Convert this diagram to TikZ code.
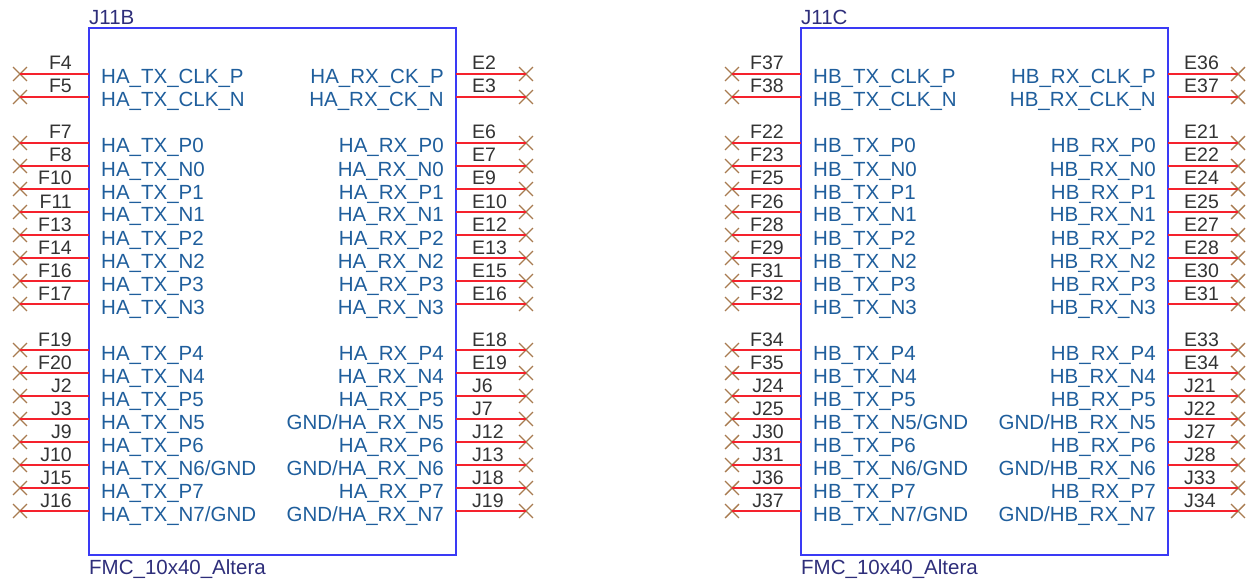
\documentclass[tikz,border=0pt]{standalone}
\usepackage{fontspec}
\setmainfont{Liberation Sans}
\usetikzlibrary{shapes.misc}

\definecolor{partblue}{HTML}{3A3AF5}
\definecolor{pinred}{HTML}{F5222D}
\definecolor{nocross}{HTML}{A87B50}
\definecolor{netblue}{HTML}{1F5E9C}
\definecolor{pintext}{HTML}{333333}
\definecolor{reftext}{HTML}{2E2E7A}

\tikzset{
	part/.style={draw=partblue, line width=2pt},
	pin/.style={draw=pinred, line width=2pt},
	nocon/.style={cross out, draw=nocross, line width=1.4pt, minimum size=12.5pt, inner sep=0pt},
	pinnum/.style={text=pintext, inner sep=0pt, font=\fontsize{19.5}{20}\selectfont},
	netname/.style={text=netblue, inner sep=0pt, font=\fontsize{20.5}{20}\selectfont},
	refname/.style={text=reftext, inner sep=0pt, font=\fontsize{20.5}{20}\selectfont}
}

% #1 suffix, #2 x offset, #3 designator, #4 left pins, #5 right pins
\newcommand{\fmcpart}[5]{
	\begin{scope}[xshift=#2pt]
		\draw[part] (89,28) rectangle (456,555);
		\node[refname, anchor=base west] (ref#1) at (89,25) {#3};
		\node[refname, anchor=base west] (val#1) at (89,574.5) {FMC\_10x40\_Altera};

		\foreach \y/\pinno/\net in {#4}{
			\coordinate (lend#1\y) at (89,\y);
			\node[nocon] (lx#1\y) at (20,\y) {};
			\draw[pin] (lend#1\y) -- (lx#1\y.center);
			\node[pinnum, anchor=base east] (lnum#1\y) at (72,\y-4) {\pinno};
			\node[netname, anchor=base west] (lnet#1\y) at (101,\y+10) {\net};
		}
		\foreach \y/\pinno/\net in {#5}{
			\coordinate (rend#1\y) at (456,\y);
			\node[nocon] (rx#1\y) at (526,\y) {};
			\draw[pin] (rend#1\y) -- (rx#1\y.center);
			\node[pinnum, anchor=base west] (rnum#1\y) at (472,\y-4) {\pinno};
			\node[netname, anchor=base east] (rnet#1\y) at (444,\y+10) {\net};
		}
	\end{scope}
}

\begin{document}
\begin{tikzpicture}[x=1pt,y=-1pt]

	\useasboundingbox (0,0) rectangle (1256,583);

	\fmcpart{B}{0}{J11B}{
		74/F4/HA\_TX\_CLK\_P, 97/F5/HA\_TX\_CLK\_N,
		143/F7/HA\_TX\_P0, 166/F8/HA\_TX\_N0, 189/F10/HA\_TX\_P1, 212/F11/HA\_TX\_N1,
		235/F13/HA\_TX\_P2, 258/F14/HA\_TX\_N2, 281/F16/HA\_TX\_P3, 304/F17/HA\_TX\_N3,
		350/F19/HA\_TX\_P4, 373/F20/HA\_TX\_N4, 396/J2/HA\_TX\_P5, 419/J3/HA\_TX\_N5,
		442/J9/HA\_TX\_P6, 465/J10/{HA\_TX\_N6/GND}, 488/J15/HA\_TX\_P7, 511/J16/{HA\_TX\_N7/GND}
	}{
		74/E2/HA\_RX\_CK\_P, 97/E3/HA\_RX\_CK\_N,
		143/E6/HA\_RX\_P0, 166/E7/HA\_RX\_N0, 189/E9/HA\_RX\_P1, 212/E10/HA\_RX\_N1,
		235/E12/HA\_RX\_P2, 258/E13/HA\_RX\_N2, 281/E15/HA\_RX\_P3, 304/E16/HA\_RX\_N3,
		350/E18/HA\_RX\_P4, 373/E19/HA\_RX\_N4, 396/J6/HA\_RX\_P5, 419/J7/{GND/HA\_RX\_N5},
		442/J12/HA\_RX\_P6, 465/J13/{GND/HA\_RX\_N6}, 488/J18/HA\_RX\_P7, 511/J19/{GND/HA\_RX\_N7}
	}

	\fmcpart{C}{712}{J11C}{
		74/F37/HB\_TX\_CLK\_P, 97/F38/HB\_TX\_CLK\_N,
		143/F22/HB\_TX\_P0, 166/F23/HB\_TX\_N0, 189/F25/HB\_TX\_P1, 212/F26/HB\_TX\_N1,
		235/F28/HB\_TX\_P2, 258/F29/HB\_TX\_N2, 281/F31/HB\_TX\_P3, 304/F32/HB\_TX\_N3,
		350/F34/HB\_TX\_P4, 373/F35/HB\_TX\_N4, 396/J24/HB\_TX\_P5, 419/J25/{HB\_TX\_N5/GND},
		442/J30/HB\_TX\_P6, 465/J31/{HB\_TX\_N6/GND}, 488/J36/HB\_TX\_P7, 511/J37/{HB\_TX\_N7/GND}
	}{
		74/E36/HB\_RX\_CLK\_P, 97/E37/HB\_RX\_CLK\_N,
		143/E21/HB\_RX\_P0, 166/E22/HB\_RX\_N0, 189/E24/HB\_RX\_P1, 212/E25/HB\_RX\_N1,
		235/E27/HB\_RX\_P2, 258/E28/HB\_RX\_N2, 281/E30/HB\_RX\_P3, 304/E31/HB\_RX\_N3,
		350/E33/HB\_RX\_P4, 373/E34/HB\_RX\_N4, 396/J21/HB\_RX\_P5, 419/J22/{GND/HB\_RX\_N5},
		442/J27/HB\_RX\_P6, 465/J28/{GND/HB\_RX\_N6}, 488/J33/HB\_RX\_P7, 511/J34/{GND/HB\_RX\_N7}
	}

\end{tikzpicture}
\end{document}
